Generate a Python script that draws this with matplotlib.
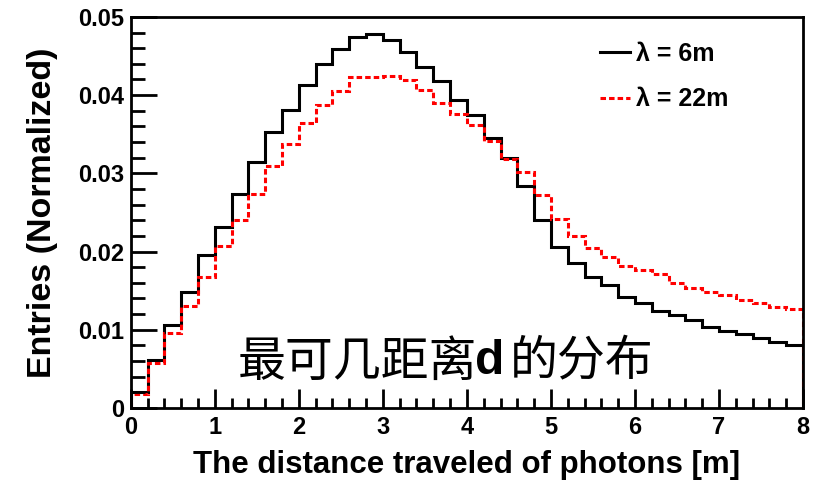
import numpy as np
import matplotlib.pyplot as plt
from matplotlib.ticker import MultipleLocator

# bin contents, bins of 0.2 m from 0 to 8 m
edges = np.linspace(0, 8, 41)
lam6 = [0.0021, 0.0062, 0.0106, 0.0148, 0.0195, 0.0232, 0.0274, 0.0314, 0.0353, 0.0381,
        0.0413, 0.0440, 0.0459, 0.0474, 0.0478, 0.0470, 0.0455, 0.0436, 0.0418, 0.0394,
        0.0374, 0.0345, 0.0319, 0.0284, 0.0240, 0.0206, 0.0185, 0.0168, 0.0157, 0.0142,
        0.0134, 0.0124, 0.0119, 0.0113, 0.0104, 0.0099, 0.0094, 0.0089, 0.0084, 0.0081]
lam22 = [0.0018, 0.0057, 0.0096, 0.0131, 0.0168, 0.0207, 0.0240, 0.0273, 0.0310, 0.0337,
         0.0364, 0.0387, 0.0405, 0.0423, 0.0423, 0.0425, 0.0419, 0.0406, 0.0390, 0.0376,
         0.0362, 0.0341, 0.0318, 0.0302, 0.0272, 0.0241, 0.0220, 0.0205, 0.0193, 0.0181,
         0.0177, 0.0171, 0.0160, 0.0154, 0.0148, 0.0144, 0.0138, 0.0134, 0.0129, 0.0126]

plt.rcParams['font.family'] = ['Liberation Sans', 'DejaVu Sans']
plt.rcParams['font.weight'] = 'bold'

fig = plt.figure(figsize=(8.22, 4.82), dpi=100)
ax = fig.add_axes([0.159, 0.1535, 0.818, 0.8115])

ax.stairs(lam6, edges, color='black', lw=2.2, label='λ = 6m')
ax.stairs(lam22, edges, color='red', lw=2.2, linestyle=(0, (1.8, 1.0)), label='λ = 22m')

ax.set_xlim(0, 8)
ax.set_ylim(0, 0.05)
ax.xaxis.set_major_locator(MultipleLocator(1))
ax.xaxis.set_minor_locator(MultipleLocator(0.2))
ax.yaxis.set_major_locator(MultipleLocator(0.01))
ax.yaxis.set_minor_locator(MultipleLocator(0.002))
ax.set_yticks([0, 0.01, 0.02, 0.03, 0.04, 0.05])
ax.set_yticklabels(['0', '0.01', '0.02', '0.03', '0.04', '0.05'])

ax.tick_params(axis='both', which='both', direction='in', width=2, labelsize=17)
ax.tick_params(axis='y', which='major', length=19, pad=5)
ax.tick_params(axis='y', which='minor', length=10)
ax.tick_params(axis='x', which='major', length=14, pad=6)
ax.tick_params(axis='x', which='minor', length=7)
for s in ax.spines.values():
    s.set_linewidth(2)

ax.set_xlabel('The distance traveled of photons [m]', fontsize=22.5, fontweight='bold', labelpad=8)
ax.set_ylabel('Entries (Normalized)', fontsize=24.5, fontweight='bold', labelpad=14)

ax.legend(loc='upper left', frameon=False, fontsize=18, handlelength=1.2,
          handletextpad=0.25, bbox_to_anchor=(0.698, 0.937), labelspacing=0.87,
          borderpad=0, borderaxespad=0)

# annotation: CJK parts in normal weight, the "d" in bold latin
ax.text(0.159, 0.118, '最可几距离', transform=ax.transAxes, fontsize=34.5,
        family=['Noto Sans CJK SC'], fontweight='normal', ha='left', va='center')
ax.text(0.512, 0.118, 'd', transform=ax.transAxes, fontsize=34.5,
        family=['Liberation Sans'], fontweight='bold', ha='left', va='center')
ax.text(0.564, 0.118, '的分布', transform=ax.transAxes, fontsize=34.5,
        family=['Noto Sans CJK SC'], fontweight='normal', ha='left', va='center')

fig.savefig('out.png', dpi=100)
